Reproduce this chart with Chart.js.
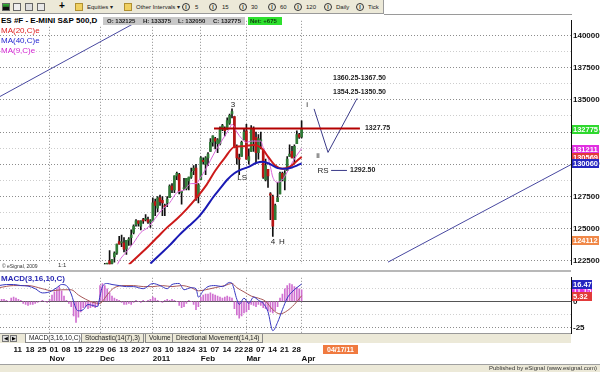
<!DOCTYPE html>
<html>
<head>
<meta charset="utf-8">
<script src="https://cdn.jsdelivr.net/npm/chart.js@4.4.1/dist/chart.umd.min.js"></script>
<style>
*{box-sizing:border-box}
html,body{margin:0;padding:0}
body{width:600px;height:372px;position:relative;overflow:hidden;background:#fff;font-family:"Liberation Sans",Arial,sans-serif;color:#000}
.a{position:absolute;white-space:nowrap}
canvas{position:absolute;left:0}
#tb{left:0;top:0;width:384px;height:14px;background:#ece9d8;border-bottom:1px solid #9a9a9a;border-right:1px solid #9a9a9a}
.tt{font-size:6px;top:4px;color:#222;line-height:7px}
.ic{width:8px;height:8px;top:3px;border:1px solid #666}
.ci{width:8px;height:8px;top:3px;border:1px solid #333;border-radius:50%;font-size:5px;line-height:6px;text-align:center;font-weight:bold;color:#222}
.tab{top:334px;height:9px;font-size:6.5px;line-height:8px;padding:0 3px;border:1px solid #888;border-top:none;background:#ece9d8;color:#222}
.oh{top:0;font-size:6px;font-weight:bold;line-height:8px;color:#222}
</style>
</head>
<body>
<!-- toolbar -->
<div class="a" id="tb"></div>
<div class="a ic" style="left:2px;background:linear-gradient(#3b3,#262 50%,#111 50%)"></div>
<div class="a ic" style="left:13px;background:#eee"></div>
<div class="a ic" style="left:25px;background:#ddd"></div>
<div class="a ic" style="left:37px;background:#e8e8e8"></div>
<div class="a" style="left:59px;top:0px;font-size:10px;font-weight:bold">+</div>
<div class="a ic" style="left:75px;background:#f0d060;border-color:#b09030"></div>
<div class="a tt" style="left:87px">Equities &#9662;</div>
<div class="a ic" style="left:124px;background:#f0d060;border-color:#b09030"></div>
<div class="a tt" style="left:136px">Other Intervals &#9662;</div>
<div class="a ci" style="left:182px">I</div><div class="a tt" style="left:195px">5</div>
<div class="a ci" style="left:209px">I</div><div class="a tt" style="left:222px">15</div>
<div class="a ci" style="left:239px">I</div><div class="a tt" style="left:251px">30</div>
<div class="a ci" style="left:268px">I</div><div class="a tt" style="left:280px">60</div>
<div class="a ci" style="left:294px">I</div><div class="a tt" style="left:306px">120</div>
<div class="a ci" style="left:324px">I</div><div class="a tt" style="left:336px">Daily</div>
<div class="a ci" style="left:356px">I</div><div class="a tt" style="left:368px">Tick</div>
<div class="a" style="left:384px;top:14px;width:188px;height:1px;background:#9a9a9a"></div>

<canvas id="pc" width="600" height="257" style="top:14px"></canvas>
<canvas id="mc" width="600" height="93" style="top:271px"></canvas>

<!-- title row -->
<div class="a" style="left:0;top:16px;height:9px;width:102px;background:#fff;font-size:8px;font-weight:bold;line-height:9px;padding-left:1px">ES #F - E-MINI S&amp;P 500,D</div>
<div class="a" style="left:103px;top:17px;height:8px;width:142px;background:#c8c8c8">
  <span class="a oh" style="left:4px">O: 132125</span>
  <span class="a oh" style="left:40px">H: 133375</span>
  <span class="a oh" style="left:75px">L: 132050</span>
  <span class="a oh" style="left:110px">C: 132775</span>
</div>
<div class="a" style="left:248px;top:17px;height:8px;width:34px;background:#2ee02e;font-size:6px;font-weight:bold;line-height:8px;padding-left:2px;color:#114411">Net: +675</div>
<!-- legend -->
<div class="a" style="left:1px;top:26px;font-size:8px;line-height:9px;color:#e02020;background:#fff">MA(20,C)e</div>
<div class="a" style="left:1px;top:36px;font-size:8px;line-height:9px;color:#2424d0;background:#fff">MA(40,C)e</div>
<div class="a" style="left:1px;top:46px;font-size:8px;line-height:9px;color:#d020d0;background:#fff">MA(9,C)e</div>
<div class="a" style="left:2px;top:263px;font-size:5px;color:#333">&copy; eSignal, 2009</div>
<div class="a" style="left:58px;top:262px;font-size:6px;color:#333">1:1</div>
<div class="a" style="left:0;top:270px;width:571px;height:2px;background:#b8b8b8"></div>
<div class="a" style="left:1px;top:274px;font-size:8px;line-height:9px;font-weight:bold;color:#2a2ab4">MACD(3,16,10,C)</div>

<!-- tab bar -->
<div class="a" style="left:0;top:333px;width:571px;height:10px;background:#ece9d8;border-top:1px solid #999"></div>
<div class="a" style="left:2px;top:335px;width:7px;height:7px;border:1px solid #777;background:#ddd;font-size:5px;line-height:5px;text-align:center">&#9664;</div>
<div class="a" style="left:10px;top:335px;width:7px;height:7px;border:1px solid #777;background:#ddd;font-size:5px;line-height:5px;text-align:center">&#9654;</div>
<div class="a tab" style="left:25px;background:#fff">MACD(3,16,10,C)</div>
<div class="a tab" style="left:81px">Stochastic(14(7),3)</div>
<div class="a tab" style="left:145px">Volume</div>
<div class="a tab" style="left:172px">Directional Movement(14,14)</div>
<div class="a" style="left:323px;top:345px;width:35px;height:9px;background:#f07a40;color:#fff;font-size:7px;font-weight:bold;line-height:9px;text-align:center">04/17/11</div>
<!-- status bar -->
<div class="a" style="left:0;top:364px;width:600px;height:8px;background:#ece9d8;border-top:1px solid #a0a0a0"></div>
<div class="a" style="right:3px;top:364px;font-size:6px;line-height:8px;color:#333">Published by eSignal (www.esignal.com)</div>

<script>
// ================= DATA =================
const holidays = ['2010-11-25','2010-12-24','2011-01-17','2011-02-21'];
const firstDay = '2010-10-01', lastDay = '2011-04-01', priceStart = '2010-12-01';

// Daily OHLC, 2010-12-01 .. 2011-04-01 (index points)
const open  = [1184,1204,1217,1221,1225,1223,1228,1231,1240,1239,1239,1234,1241,1243,1247,1253,1256,1252,1257,1257,1257,1255,
               1256,1271,1266,1274,1272,1268,1270,1274,1283,1280,1291,1292,1278,1281,1281,1287,1290,1295,1297,1275,
               1288,1303,1300,1305,1310,1317,1320,1316,1316,1327,1328,1327,1332,1339,1337,1313,1305,1306,1319,
               1326,1303,1310,1328,1321,1309,1318,1311,1288,1296,1277,1275,1257,1271,1277,1293,1287,1295,1306,1310,1306,1316,1323,1321.25];
const high  = [1205,1219,1223,1223,1233,1226,1232,1238,1244,1245,1243,1241,1243,1249,1253,1257,1256,1256,1258,1261,1259,1257,
               1274,1273,1275,1276,1275,1269,1275,1284,1285,1291,1294,1293,1279,1289,1289,1290,1297,1299,1300,1285,
               1306,1305,1306,1309,1320,1322,1321,1320,1329,1331,1329,1336,1339,1343,1337,1315,1308,1318,1328,
               1331,1312,1330,1329,1325,1323,1325,1311,1304,1296,1278,1276,1269,1286,1294,1294,1295,1306,1315,1314,1315,1326,1324,1333.75];
const low   = [1184,1204,1214,1218,1218,1217,1224,1230,1238,1236,1232,1230,1237,1237,1246,1252,1252,1249,1254,1256,1254,1251,
               1256,1260,1263,1268,1260,1260,1267,1274,1278,1278,1288,1277,1269,1280,1280,1280,1289,1292,1272,1270,
               1288,1300,1292,1299,1310,1314,1312,1309,1315,1326,1322,1327,1331,1336,1313,1300,1292,1306,1319,
               1304,1300,1310,1310,1301,1304,1312,1289,1287,1282,1257,1244,1257,1271,1277,1287,1280,1295,1306,1305,1301,1316,1320,1320.5];
const close = [1204,1219,1222,1221,1222,1226,1231,1238,1238,1239,1234,1241,1242,1245,1252,1256,1254,1256,1256,1257,1255,1256,
               1270,1268,1274,1271,1270,1267,1273,1283,1280,1291,1293,1279,1278,1281,1289,1290,1294,1297,1274,1284,
               1305,1302,1305,1308,1317,1322,1318,1319,1327,1330,1326,1334,1338,1341,1313,1305,1304,1317,1325,
               1304,1306,1328,1319,1309,1320,1319,1290,1299,1291,1276,1252,1268,1274,1293,1289,1293,1304,1308,1305,1314,1323,1321,1327.75];

// Moving averages (bar index from 2010-12-01, value)
const ma9Idx  = [7,8,11,14,17,20,23,26,29,32,35,38,40,42,44,46,48,50,52,54,55,57,59,61,63,65,67,68,70,71,72,74,76,78,80,82,84];
const ma9Val  = [1221,1225,1232,1239,1247,1251,1258,1265,1270,1278,1280,1285,1285,1290,1296,1303,1310,1316,1322,1328,1331,1325,1320,1317,1318,1318,1318,1313,1305,1298,1290,1286,1288,1294,1301,1307,1312.11];
const ma20Idx = [12,16,20,24,28,32,36,40,44,48,52,56,60,64,67,70,73,76,79,82,84];
const ma20Val = [1222,1229,1236,1243.5,1251,1257.5,1265,1273.5,1283,1295,1305,1313.5,1314,1315,1313,1306,1299,1296.5,1298,1302.5,1305.69];
const ma40Idx = [21,25,29,33,37,41,44,47,50,53,56,59,62,65,68,71,74,77,80,82,84];
const ma40Val = [1223,1230,1237,1245,1252,1259,1266,1274,1281,1288,1293,1296,1298,1301,1302,1300,1297,1296.5,1297.5,1299,1300.6];

// MACD(3,16,10): histogram per bar from 2010-10-01
const macdHist = [1,2,2,1,0, 3,4,3,2,1, -2,-3,-4,-3,-3,-2,-1, 0,1,0,-1,2, 6,9,12,14,10,5, 1,-2, -5,-14,-20,-15,-10,
                  -6,-5,-7,-6,-5,-6,-4, 15,17,15,12,8,5, 3,2,1,-1, -3,-3,-2,-3,-1, 1,0,-1,1,0,1, 2,4,3,1,
                  0,-1,1,2,1,2,1,0, -4,-6,-5,-2, 1,0,-3,-8,-5, 4,6,7,7,8,7,6,5,4, 3,4,5,4,
                  3,-7,-13,-16,-14,-11,-10,-8, -3,-4,-5,-3,-4,-6, -7,-9,-10,-11,-9,-5, 3,7,12,15,17,16,14,13,12,11];
const macdIdx = [-42,-39,-36,-33,-30,-27,-24,-21,-18,-16,-14,-12,-10,-9,-7,-5,-3,-1,0,1,3,5,8,11,14,18,22,25,28,30,33,35,38,40,41,43,45,48,51,54,55,57,58,60,62,64,66,68,70,72,74,76,78,80,82,84];
const macdVal = [15,16,16,15,14.5,12,8,9,13,16,15,7,-7,-9,-8,-3,-4,-5,5,14,17,16,15,14,14,12,17,15,12,16,17,11,13,12,4,10,14,15,14,18,17,2,-3,3,-2,4,1,-2,-10,-28,-20,-8,3,9,13,16.47];
const sigIdx  = [-42,-36,-30,-24,-20,-16,-12,-9,-6,-3,0,2,4,6,10,14,18,22,26,30,34,38,41,44,48,52,55,57,60,63,66,69,72,75,78,81,84];
const sigVal  = [13,15,15,12,10,11,11,6,2,-1,-2,3,9,13,15,15,14,14,15,14,15,13,10,11,13,15,17,13,9,5,3,0,-8,-12,-9,-3,5.32];

// Axis labels
const weekTicks = ['2010-10-11','2010-10-18','2010-10-25','2010-11-01','2010-11-08','2010-11-15','2010-11-22','2010-11-29',
  '2010-12-06','2010-12-13','2010-12-20','2010-12-27','2011-01-03','2011-01-10','2011-01-18','2011-01-24','2011-01-31',
  '2011-02-07','2011-02-14','2011-02-22','2011-02-28','2011-03-07','2011-03-14','2011-03-21','2011-03-28'];
const monthTicks = ['2010-11-01','2010-12-01','2011-01-03','2011-02-01','2011-03-01','2011-04-01'];
const monthNames = ['Nov','Dec','2011','Feb','Mar','Apr'];

// Drawn annotations (bar index, price)
const trendUpper = [[-42,1352.3],[18,1413.3]];
const trendLower = [[120,1224],[197,1300.5]];
const projection = [[89.2,1343],[95,1309.2],[107.1,1351.1]];
const neckline   = [[47.5,1327.75],[108.3,1327.75]];
const rsLine     = [[96.3,1295.2],[102.9,1295.2]];
const waveLabels = [['3',55.4,1346],['LS',59.2,1289.3],['4',72.1,1240.1],['H',75.8,1240.1],['i',86.3,1346],['ii',90.8,1306.3],['RS',92.9,1295.2]];
const levelLabels = [['1327.75',110.4,1327.75],['1292.50',104.2,1295.2],['1360.25-1367.50',97.1,1367.3],['1354.25-1350.50',97.1,1356.2]];

// Right-axis value flags
const priceFlags = [[1327.75,'#2ed82e'],[1312.11,'#e030e0'],[1305.69,'#e23a3a'],[1300.60,'#2626c0'],[1241.12,'#f08848']];
const macdFlags  = [[11.15,'#e030e0','11.15'],[16.47,'#2626c0','16.47'],[5.32,'#e23a3a','5.32']];

// ================= BUILD =================
function tradingDays(a, b, hol){
  const out=[]; const d=new Date(a+'T00:00:00Z'); const e=new Date(b+'T00:00:00Z');
  while(d<=e){ const wd=d.getUTCDay(); const s=d.toISOString().slice(0,10);
    if(wd!==0&&wd!==6&&!hol.includes(s)) out.push(s); d.setUTCDate(d.getUTCDate()+1); }
  return out;
}
const days = tradingDays(firstDay, lastDay, holidays);
const base = days.indexOf(priceStart);
const ix = d => days.indexOf(d) - base;
const macdStart = ix(firstDay);
const X_MIN = -41.67, X_MAX = 196.25;
const pts = (I,V) => I.map((x,k)=>({x, y:V[k]}));
const weekMap = new Map(weekTicks.map(d=>[ix(d), d.slice(8,10)]));
const monthMap = new Map(monthTicks.map((d,k)=>[ix(d), monthNames[k]]));
const FONT = '"Liberation Sans", Arial, sans-serif';

const UP='#2f7a36', DOWN='#b81414';
const bodyData = open.map((o,k)=>({x:k, y:[Math.min(o,close[k]), Math.max(o,close[k])]}));
const wickData = open.map((o,k)=>({x:k, y:[low[k], high[k]]}));

const priceTicks=[]; for(let v=1225; v<=1400; v+=12.5) priceTicks.push(v);

const annoPlugin = {
  id:'anno',
  afterDatasetsDraw(chart){
    const {ctx, chartArea:a, scales:{x,y}} = chart;
    ctx.save();
    ctx.beginPath(); ctx.rect(a.left,a.top,a.right-a.left,a.bottom-a.top); ctx.clip();
    const line=(P,color,w)=>{ctx.beginPath();P.forEach(([i,p],k)=>{const X=x.getPixelForValue(i),Y=y.getPixelForValue(p);k?ctx.lineTo(X,Y):ctx.moveTo(X,Y);});ctx.strokeStyle=color;ctx.lineWidth=w;ctx.stroke();};
    line(trendUpper,'#4848a0',1);
    line(trendLower,'#4848a0',1);
    line(projection,'#3a3a88',1);
    line(neckline,'#b40000',2);
    line(rsLine,'#3a3a88',1);
    ctx.fillStyle='#222'; ctx.textBaseline='middle';
    ctx.font='8px '+FONT; ctx.textAlign='center';
    waveLabels.forEach(([t,i,p])=>ctx.fillText(t,x.getPixelForValue(i),y.getPixelForValue(p)));
    ctx.font='bold 7px '+FONT; ctx.textAlign='left';
    levelLabels.forEach(([t,i,p])=>ctx.fillText(t,x.getPixelForValue(i),y.getPixelForValue(p)));
    ctx.restore();
  }
};
const flagPlugin = (flags, w, fmt) => ({
  id:'flags',
  afterDraw(chart){
    const {ctx, chartArea:a, scales:{y}} = chart;
    ctx.save();
    flags.forEach(f=>{
      const Y=Math.round(y.getPixelForValue(f[0]));
      ctx.fillStyle=f[1]; ctx.fillRect(a.right+1, Y-4, w, 9);
      ctx.fillStyle='#fff'; ctx.font='bold 7.5px '+FONT; ctx.textAlign='left'; ctx.textBaseline='middle';
      ctx.fillText(fmt(f), a.right+2, Y+0.5);
    });
    ctx.restore();
  }
});

const common = {responsive:false, animation:false, devicePixelRatio:1,
  plugins:{legend:{display:false}, tooltip:{enabled:false}}};

new Chart(document.getElementById('pc'), {
  type:'bar',
  data:{datasets:[
    {type:'line', data:pts(ma40Idx,ma40Val), borderColor:'#1a1ab4', borderWidth:2, pointRadius:0, cubicInterpolationMode:'monotone', order:0},
    {type:'line', data:pts(ma20Idx,ma20Val), borderColor:'#cc1a1a', borderWidth:2, pointRadius:0, cubicInterpolationMode:'monotone', order:1},
    {type:'line', data:pts(ma9Idx,ma9Val), borderColor:'#d866d8', borderWidth:1, pointRadius:0, cubicInterpolationMode:'monotone', order:2},
    {data:bodyData, backgroundColor:c=>close[c.dataIndex]>=open[c.dataIndex]?UP:DOWN, barThickness:2, grouped:false, minBarLength:1, order:3},
    {data:wickData, backgroundColor:'#111', barThickness:1, grouped:false, order:4}
  ]},
  options:{...common,
    layout:{padding:0, autoPadding:false},
    scales:{
      x:{type:'linear', min:X_MIN, max:X_MAX, offset:false,
         afterBuildTicks:s=>{s.ticks=monthTicks.map(d=>({value:ix(d)}));},
         ticks:{display:false}, grid:{color:'#8c8c8c', drawTicks:false, offset:false},
         border:{display:false, dash:[1,2]}, afterFit:s=>{s.height=0;}},
      y:{position:'right', min:1222.4, max:1411.4,
         afterBuildTicks:s=>{s.ticks=priceTicks.map(v=>({value:v}));},
         ticks:{callback:v=>(v%25===0?String(Math.round(v*100)):''), font:{family:FONT,size:8,weight:'bold'}, color:'#111', padding:2, autoSkip:false},
         grid:{color:c=>(c.tick&&c.tick.value%25===0)?'#8c8c8c':'#cdcdcd', drawTicks:false},
         border:{display:true, color:'#111', width:1, dash:[1,2]},
         afterFit:s=>{s.width=29;}}
    }
  },
  plugins:[annoPlugin, flagPlugin(priceFlags, 27, f=>String(Math.round(f[0]*100)))]
});

new Chart(document.getElementById('mc'), {
  type:'bar',
  data:{datasets:[
    {type:'line', xAxisID:'x', data:pts(macdIdx,macdVal), borderColor:'#3838c0', borderWidth:1, pointRadius:0, cubicInterpolationMode:'monotone', order:0},
    {type:'line', xAxisID:'x', data:pts(sigIdx,sigVal), borderColor:'#a85858', borderWidth:1, pointRadius:0, cubicInterpolationMode:'monotone', order:1},
    {xAxisID:'x', data:macdHist.map((v,k)=>({x:macdStart+k, y:v})), backgroundColor:'#d070d0', barThickness:1, grouped:false, order:2}
  ]},
  options:{...common,
    layout:{padding:{top:1,left:0,right:0,bottom:0}, autoPadding:false},
    scales:{
      x:{type:'linear', position:'bottom', weight:1, min:X_MIN, max:X_MAX, offset:false,
         afterBuildTicks:s=>{s.ticks=monthTicks.map(d=>({value:ix(d)}));},
         ticks:{callback:v=>monthMap.get(v)||'', font:{family:FONT,size:8,weight:'bold'}, color:'#111', align:'start', padding:1, autoSkip:false, maxRotation:0, minRotation:0},
         grid:{color:'#8c8c8c', drawTicks:false, offset:false},
         border:{display:false, dash:[1,2]}, afterFit:s=>{s.height=11;}},
      xw:{type:'linear', position:'bottom', weight:0, min:X_MIN, max:X_MAX, offset:false,
         afterBuildTicks:s=>{s.ticks=weekTicks.map(d=>({value:ix(d)}));},
         ticks:{callback:v=>weekMap.get(v)||'', font:{family:FONT,size:8,weight:'bold'}, color:'#111', align:'start', padding:12, autoSkip:false, maxRotation:0, minRotation:0},
         grid:{display:false, drawTicks:false}, border:{display:false}, afterFit:s=>{s.height=20;}},
      y:{position:'right', min:-30.2, max:22.4,
         afterBuildTicks:s=>{s.ticks=[-25,-12.5,0,12.5].map(v=>({value:v}));},
         ticks:{callback:v=>(v===0?'0':(v===-25?'-25':'')), font:{family:FONT,size:8,weight:'bold'}, color:'#111', padding:2, autoSkip:false},
         grid:{color:c=>{const v=c.tick&&c.tick.value; return v===0?'#555':(v===-25?'#8c8c8c':'#d0d0d0');}, drawTicks:false},
         border:{display:true, color:'#111', width:1, dash:c=>(c.tick&&c.tick.value===0)?[]:[1,2]},
         afterFit:s=>{s.width=29;}}
    }
  },
  plugins:[flagPlugin(macdFlags, 20, f=>f[2])]
});
</script>
</body>
</html>
